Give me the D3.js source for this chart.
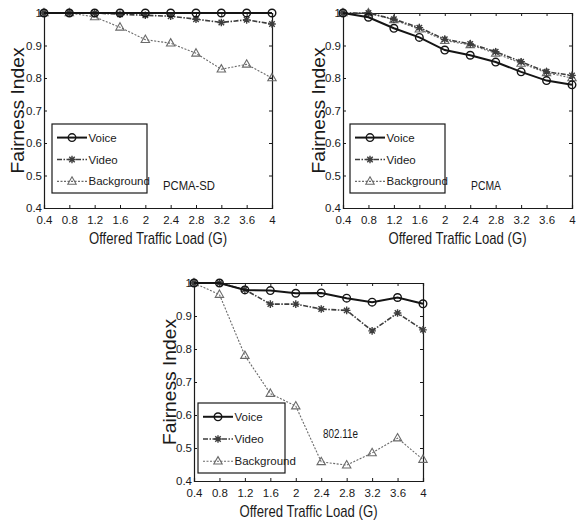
<!DOCTYPE html>
<html><head><meta charset="utf-8">
<script src="https://cdn.jsdelivr.net/npm/d3@7"></script>
<style>
body{margin:0;background:#fff}
svg text{font-family:"Liberation Sans Narrow","Liberation Sans",Arial,sans-serif;fill:#1a1a1a}
</style>
</head><body>
<svg id="chart" width="578" height="521"></svg>
<script>
// ---------- data ----------
const loads = [0.4, 0.8, 1.2, 1.6, 2.0, 2.4, 2.8, 3.2, 3.6, 4.0];
const xTickLabels = ["0.4","0.8","1.2","1.6","2","2.4","2.8","3.2","3.6","4"];
const yTickValues = [0.4, 0.5, 0.6, 0.7, 0.8, 0.9, 1.0];
const yTickLabels = ["0.4","0.5","0.6","0.7","0.8","0.9","1"];
const seriesNames = ["Voice", "Video", "Background"];
const panelTitles = ["PCMA-SD", "PCMA", "802.11e"];
const xAxisTitle = "Offered Traffic Load (G)";
const yAxisTitle = "Fairness Index";

const pcmaSdVoice      = [1.0, 1.0, 1.0, 1.0, 1.0, 1.0, 1.0, 1.0, 1.0, 1.0];
const pcmaSdVideo      = [1.0, 1.0, 1.0, 0.996, 0.993, 0.99, 0.981, 0.971, 0.979, 0.966];
const pcmaSdBackground = [1.0, 1.0, 0.988, 0.956, 0.918, 0.907, 0.876, 0.827, 0.842, 0.80];

const pcmaVoice      = [1.0, 0.987, 0.953, 0.925, 0.886, 0.87, 0.849, 0.819, 0.792, 0.779];
const pcmaVideo      = [1.0, 1.0, 0.981, 0.955, 0.919, 0.905, 0.881, 0.85, 0.819, 0.808];
const pcmaBackground = [1.0, 1.0, 0.979, 0.95, 0.915, 0.902, 0.876, 0.845, 0.816, 0.80];

const edcaVoice      = [1.0, 1.0, 0.979, 0.977, 0.969, 0.97, 0.954, 0.942, 0.956, 0.937];
const edcaVideo      = [1.0, 1.0, 0.98, 0.936, 0.936, 0.921, 0.917, 0.855, 0.909, 0.858];
const edcaBackground = [1.0, 0.965, 0.78, 0.665, 0.627, 0.458, 0.448, 0.485, 0.53, 0.465];

const panelData = [
  [pcmaSdVoice, pcmaSdVideo, pcmaSdBackground],
  [pcmaVoice, pcmaVideo, pcmaBackground],
  [edcaVoice, edcaVideo, edcaBackground]
];

// ---------- layout / style ----------
const panels = [
  {left:44,  right:272, top:13,  bottom:208, ylabX:24,  legend:{x:52, y:124, w:95, h:69},  note:{x:163, y:190, w:52}},
  {left:343, right:572, top:13,  bottom:208, ylabX:325, legend:{x:350, y:124, w:95, h:69}, note:{x:471, y:190, w:30}},
  {left:194, right:423, top:283, bottom:481, ylabX:176, legend:{x:198, y:403, w:87, h:70}, note:{x:323, y:438, w:35}}
];
const styles = [
  {color:"#151515", width:2.0, dash:null,         marker:"circle"},
  {color:"#3d3d3d", width:1.6, dash:"5,1.5,1.5,1.5", marker:"star"},
  {color:"#6a6a6a", width:1.1, dash:"2,1.5",      marker:"triangle"}
];

const svg = d3.select("#chart");
svg.append("rect").attr("width",578).attr("height",521).attr("fill","#fff");

function drawMarker(g, type, x, y, color){
  if(type==="circle"){
    g.append("circle").attr("cx",x).attr("cy",y).attr("r",3.8)
      .attr("fill","none").attr("stroke",color).attr("stroke-width",1.4);
  } else if(type==="star"){
    const s=3.8, d=s*0.72;
    g.append("path").attr("transform",`translate(${x},${y})`)
      .attr("d",`M0,${-s}L0,${s}M${-s},0L${s},0M${-d},${-d}L${d},${d}M${-d},${d}L${d},${-d}`)
      .attr("stroke",color).attr("stroke-width",1.4).attr("fill","none");
  } else {
    g.append("path").attr("transform",`translate(${x},${y})`)
      .attr("d","M0,-4.6L4.2,2.8L-4.2,2.8Z")
      .attr("stroke",color).attr("stroke-width",1.1).attr("fill","none");
  }
}

panels.forEach((p, pi) => {
  const g = svg.append("g");
  const x = d3.scaleLinear().domain([0.4, 4]).range([p.left, p.right]);
  const y = d3.scaleLinear().domain([0.4, 1]).range([p.bottom, p.top]);

  // axes with inward ticks
  const bottomAxis = d3.axisBottom(x).tickValues(loads).tickSize(-3).tickPadding(8)
    .tickFormat((d,i)=>xTickLabels[i]);
  const topAxis = d3.axisTop(x).tickValues(loads).tickSize(-3).tickFormat("");
  const leftAxis = d3.axisLeft(y).tickValues(yTickValues).tickSize(-3).tickPadding(2)
    .tickFormat((d,i)=>yTickLabels[i]);
  const rightAxis = d3.axisRight(y).tickValues(yTickValues).tickSize(-3).tickFormat("");

  const styleAxis = a => {
    a.select(".domain").attr("stroke","#1a1a1a").attr("stroke-width",1.2);
    a.selectAll(".tick line").attr("stroke","#1a1a1a").attr("stroke-width",1);
    a.selectAll(".tick text").attr("font-size",11.5).attr("font-family","Liberation Sans Narrow, Liberation Sans, Arial").attr("fill","#1a1a1a");
  };
  g.append("g").attr("transform",`translate(0,${p.bottom})`).call(bottomAxis).call(styleAxis);
  g.append("g").attr("transform",`translate(0,${p.top})`).call(topAxis).call(styleAxis);
  g.append("g").attr("transform",`translate(${p.left},0)`).call(leftAxis).call(styleAxis);
  g.append("g").attr("transform",`translate(${p.right},0)`).call(rightAxis).call(styleAxis);

  // series
  const line = d3.line().x((d,i)=>x(loads[i])).y(d=>y(d));
  [2,1,0].forEach(si => {
    const st = styles[si];
    const vals = panelData[pi][si];
    g.append("path").attr("d", line(vals)).attr("fill","none")
      .attr("stroke",st.color).attr("stroke-width",st.width)
      .attr("stroke-dasharray",st.dash);
    vals.forEach((v,i)=>drawMarker(g, st.marker, x(loads[i]), y(v), st.color));
  });

  // legend
  const L = p.legend;
  g.append("rect").attr("x",L.x).attr("y",L.y).attr("width",L.w).attr("height",L.h)
    .attr("fill","#fff").attr("stroke","#1a1a1a").attr("stroke-width",1.2);
  const rowH = L.h/3.15;
  seriesNames.forEach((name, si) => {
    const st = styles[si];
    const cy = L.y + rowH*(si+0.62);
    const x0 = L.x + 5, x1 = L.x + 35;
    g.append("line").attr("x1",x0).attr("x2",x1).attr("y1",cy).attr("y2",cy)
      .attr("stroke",st.color).attr("stroke-width",st.width).attr("stroke-dasharray",st.dash);
    drawMarker(g, st.marker, (x0+x1)/2, cy, st.color);
    g.append("text").attr("x",x1+1.5).attr("y",cy).attr("dy","0.35em")
      .attr("font-size",11.5).text(name);
  });

  // annotation
  g.append("text").attr("x",p.note.x).attr("y",p.note.y).attr("font-size",13.5)
    .attr("textLength",p.note.w).attr("lengthAdjust","spacingAndGlyphs").text(panelTitles[pi]);

  // axis titles
  g.append("text").attr("x",(p.left+p.right)/2).attr("y",p.bottom+36)
    .attr("text-anchor","middle").attr("font-size",17)
    .attr("textLength",138).attr("lengthAdjust","spacingAndGlyphs")
    .text(xAxisTitle);
  g.append("text").attr("transform",`translate(${p.ylabX},${(p.top+p.bottom)/2}) rotate(-90)`)
    .attr("text-anchor","middle").attr("font-size",19)
    .style("font-family","Liberation Sans, Arial, sans-serif")
    .attr("textLength",126).attr("lengthAdjust","spacingAndGlyphs")
    .text(yAxisTitle);
});
</script>
</body></html>
